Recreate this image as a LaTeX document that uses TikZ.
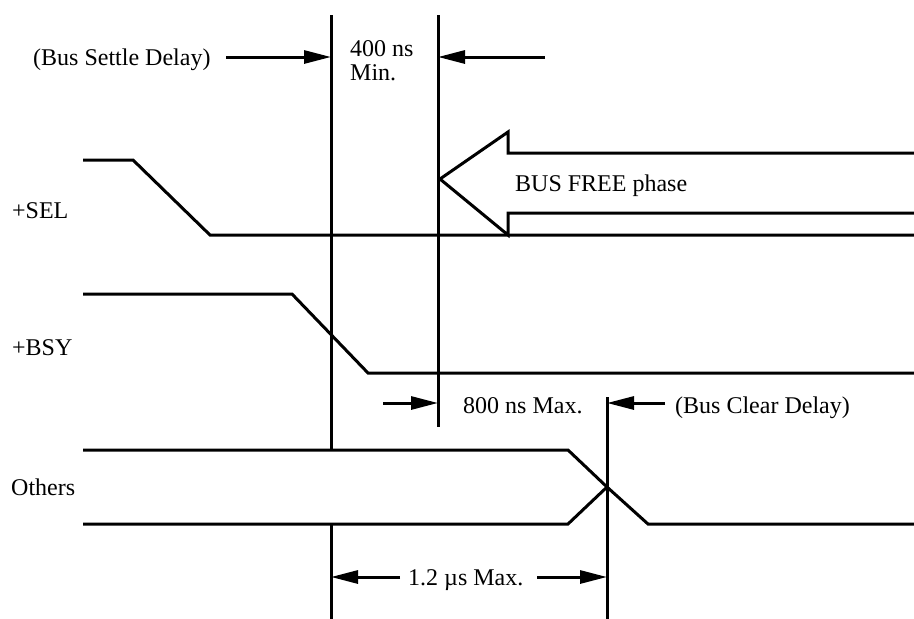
\documentclass[tikz,border=0pt]{standalone}
\usepackage{fontspec}
\setmainfont{Liberation Serif}
\usetikzlibrary{arrows.meta}
\begin{document}
\begin{tikzpicture}[x=1pt,y=-1pt,
  sig/.style={line width=3pt,line cap=butt,line join=miter},
  dim/.style={line width=3pt,-{Triangle[length=27pt,width=13pt]}},
  lbl/.style={font=\fontsize{24}{28}\selectfont,inner sep=0pt}]
\useasboundingbox (0,0) rectangle (914,619);
% signal labels
\node[lbl,anchor=base west] (sel) at (12,218) {+SEL};
\node[lbl,anchor=base west] (bsy) at (12,355) {+BSY};
\node[lbl,anchor=base west] (oth) at (11,495) {Others};
% +SEL
\coordinate (s0) at (83,160); \coordinate (s1) at (133,160);
\coordinate (s2) at (210,235); \coordinate (s3) at (914,235);
\draw[sig] (s0) -- (s1) -- (s2) -- (s3);
% +BSY
\coordinate (b0) at (83,294); \coordinate (b1) at (292,294);
\coordinate (b2) at (368,373); \coordinate (b3) at (914,373);
\draw[sig] (b0) -- (b1) -- (b2) -- (b3);
% Others
\coordinate (o0) at (83,450); \coordinate (o1) at (568,450);
\coordinate (ox) at (607,487); \coordinate (o2) at (648,524);
\coordinate (o3) at (914,524); \coordinate (o4) at (83,524);
\coordinate (o5) at (568,524);
\draw[sig] (o0) -- (o1) -- (ox) -- (o2) -- (o3);
\draw[sig] (o4) -- (o5) -- (ox);
% vertical timing lines
\coordinate (v1t) at (331,15); \coordinate (v1a) at (331,450);
\coordinate (v1b) at (331,524); \coordinate (v1e) at (331,619);
\draw[sig] (v1t) -- (v1a) (v1b) -- (v1e);
\coordinate (v2t) at (438,15); \coordinate (v2e) at (438,427);
\draw[sig] (v2t) -- (v2e);
\coordinate (v3t) at (607,397); \coordinate (v3e) at (607,619);
\draw[sig] (v3t) -- (v3e);
% BUS FREE phase arrow
\coordinate (f0) at (914,153); \coordinate (f1) at (508,153);
\coordinate (f2) at (508,132); \coordinate (ftip) at (440,179);
\coordinate (f3) at (508,235); \coordinate (f4) at (508,213);
\coordinate (f5) at (914,213);
\draw[sig] (f0) -- (f1) -- (f2) -- (ftip) -- (f3) -- (f4) -- (f5);
\node[lbl,anchor=base west] (bf) at (515,191) {BUS FREE phase};
% top: bus settle delay
\node[lbl,anchor=base west] (bsd) at (33,65) {(Bus Settle Delay)};
\coordinate (a1s) at (226,57); \coordinate (a1e) at (331,57);
\draw[dim] (a1s) -- (a1e);
\node[lbl,anchor=base west] (n400) at (350,56) {400 ns};
\node[lbl,anchor=base west] (nmin) at (350,80) {Min.};
\coordinate (a2s) at (545,57); \coordinate (a2e) at (438,57);
\draw[dim] (a2s) -- (a2e);
% 800 ns
\coordinate (a3s) at (383,403); \coordinate (a3e) at (438,403);
\draw[dim] (a3s) -- (a3e);
\node[lbl,anchor=base west] (n800) at (463,413) {800 ns Max.};
\coordinate (a4s) at (665,403); \coordinate (a4e) at (607,403);
\draw[dim] (a4s) -- (a4e);
\node[lbl,anchor=base west] (bcd) at (675,413) {(Bus Clear Delay)};
% 1.2 us
\coordinate (a5s) at (400,577); \coordinate (a5e) at (331,577);
\draw[dim] (a5s) -- (a5e);
\node[lbl,anchor=base west] (n12) at (408,585) {1.2 µs Max.};
\coordinate (a6s) at (537,577); \coordinate (a6e) at (607,577);
\draw[dim] (a6s) -- (a6e);
\end{tikzpicture}
\end{document}
